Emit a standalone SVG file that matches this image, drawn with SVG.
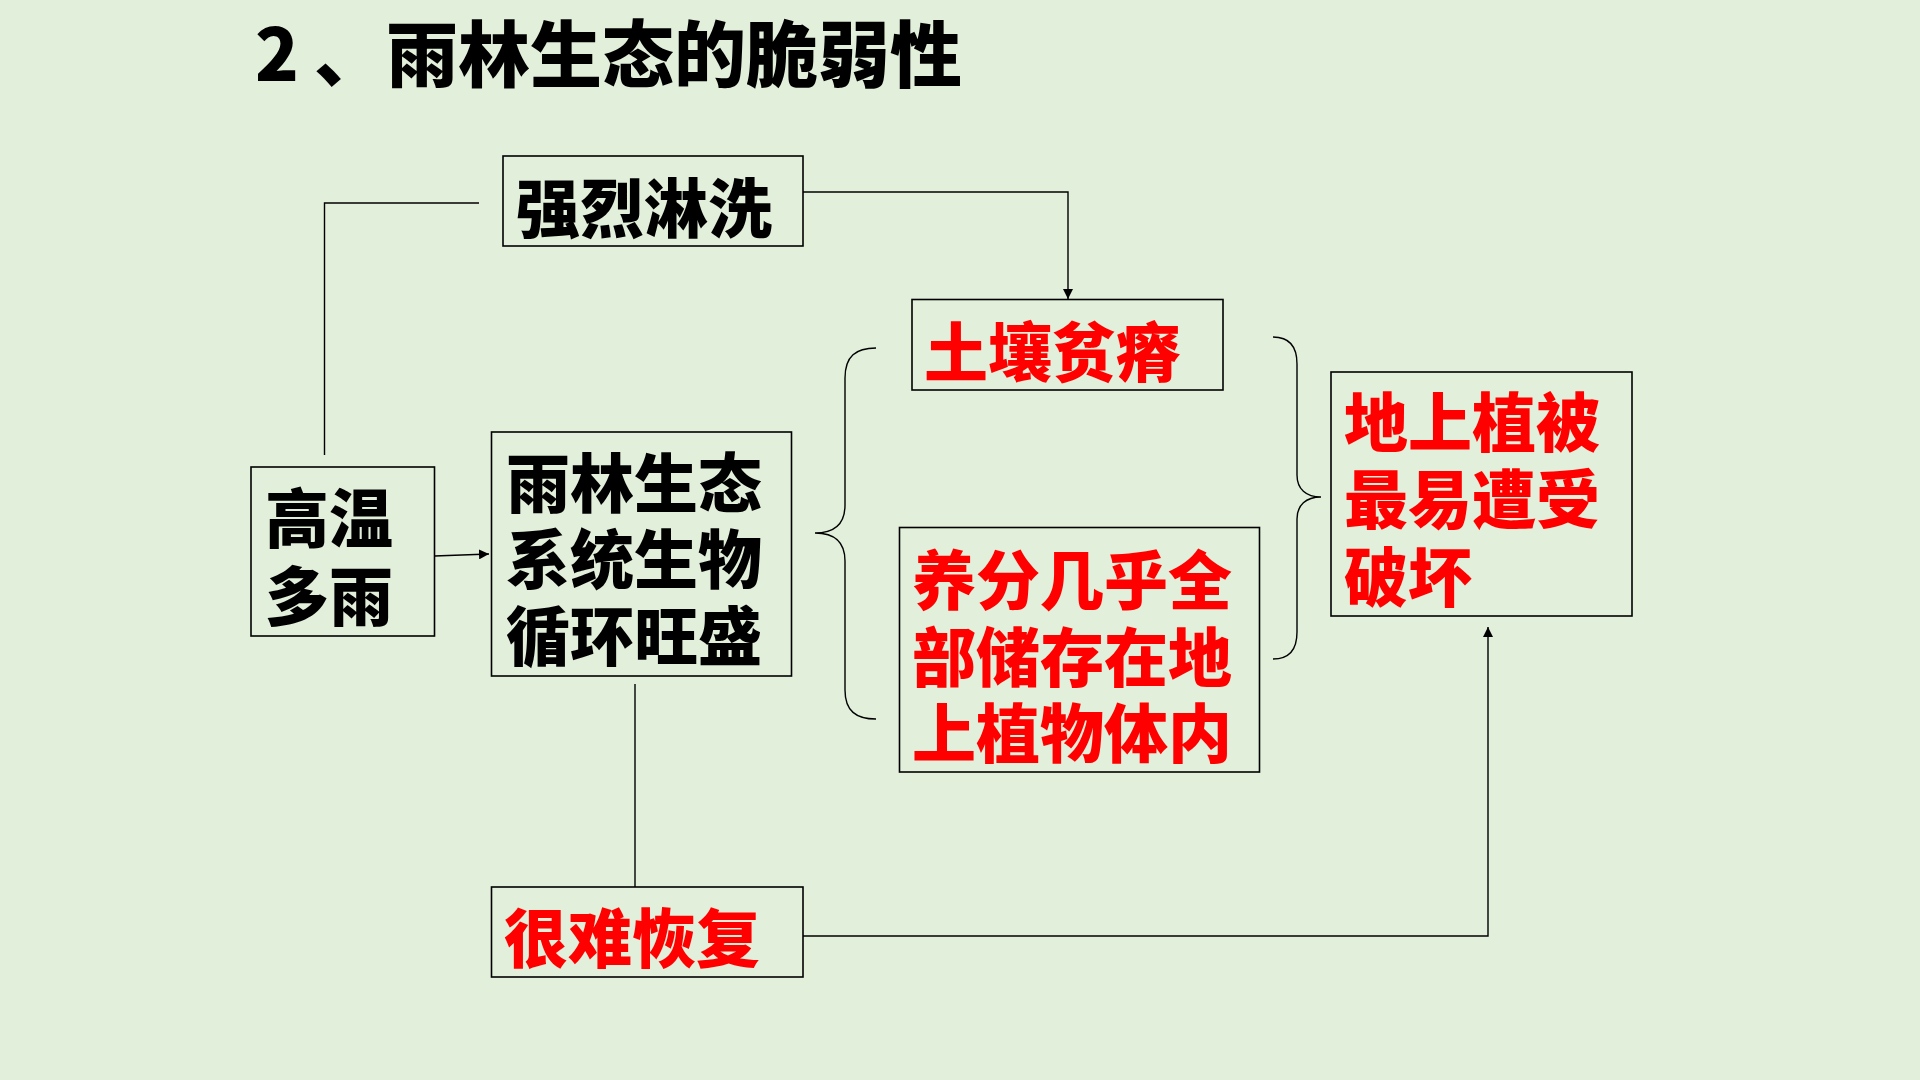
<svg xmlns="http://www.w3.org/2000/svg" width="1920" height="1080" viewBox="0 0 1920 1080">
<defs>
<style>
.box{fill:none;stroke:#000;stroke-width:1.6}
.t{font-family:"Noto Sans CJK SC","Liberation Sans",sans-serif;font-weight:900;font-size:64px}
.k{fill:#000}
.r{fill:#FF0000}
.ln{fill:none;stroke:#000;stroke-width:1.4}
</style>
<marker id="ah" viewBox="0 0 10 10" refX="10" refY="5" markerWidth="10" markerHeight="10" markerUnits="userSpaceOnUse" orient="auto">
<path d="M0,0 L10,5 L0,10 Z" fill="#000"/>
</marker>
</defs>
<rect width="1920" height="1080" fill="#E2EFDA"/>
<text id="title" class="t k" x="255" y="81" style="font-size:72px">2 <tspan x="314">、</tspan><tspan x="386">雨林生态的脆弱性</tspan></text>

<g id="connectors">
<polyline class="ln" points="479,203 324.5,203 324.5,455"/>
<polyline class="ln" points="803,192 1068,192 1068,299" marker-end="url(#ah)"/>
<line class="ln" x1="434.4" y1="556" x2="489" y2="554" marker-end="url(#ah)"/>
<line class="ln" x1="635" y1="684" x2="635" y2="887"/>
<polyline class="ln" points="803,936 1488,936 1488,627" marker-end="url(#ah)"/>
<path class="ln" d="M876,348 C856,348 845,356 845,378 L845,505 C845,524 835,533 815,533 C835,533 845,542 845,561 L845,690 C845,711 856,719 876,719"/>
<path class="ln" d="M1273,337 C1288,337 1297,345 1297,364 L1297,475 C1297,489 1306,497 1321,497 C1306,497 1297,505 1297,519 L1297,632 C1297,651 1288,659 1273,659"/>
</g>

<g id="n-linxi">
<rect class="box" x="503" y="156" width="300" height="90"/>
<text class="t k" x="516" y="232">强烈淋洗</text>
</g>
<g id="n-gaowen">
<rect class="box" x="251" y="467" width="183.5" height="169"/>
<text class="t k"><tspan x="265" y="542">高温</tspan><tspan x="265" y="620">多雨</tspan></text>
</g>
<g id="n-yulin">
<rect class="box" x="491.5" y="432" width="300" height="244"/>
<text class="t k"><tspan x="506" y="507">雨林生态</tspan><tspan x="506" y="583">系统生物</tspan><tspan x="506" y="660">循环旺盛</tspan></text>
</g>
<g id="n-turang">
<rect class="box" x="912" y="299.5" width="311" height="90.5"/>
<text class="t r" x="924" y="376">土壤贫瘠</text>
</g>
<g id="n-yangfen">
<rect class="box" x="899.5" y="527.5" width="360" height="244.5"/>
<text class="t r"><tspan x="912" y="604">养分几乎全</tspan><tspan x="912" y="681">部储存在地</tspan><tspan x="912" y="757">上植物体内</tspan></text>
</g>
<g id="n-dishang">
<rect class="box" x="1331" y="372" width="301" height="244"/>
<text class="t r"><tspan x="1344" y="446">地上植被</tspan><tspan x="1344" y="523">最易遭受</tspan><tspan x="1344" y="601">破坏</tspan></text>
</g>
<g id="n-hennan">
<rect class="box" x="491.5" y="887" width="311.5" height="90"/>
<text class="t r" x="504" y="962">很难恢复</text>
</g>
</svg>
